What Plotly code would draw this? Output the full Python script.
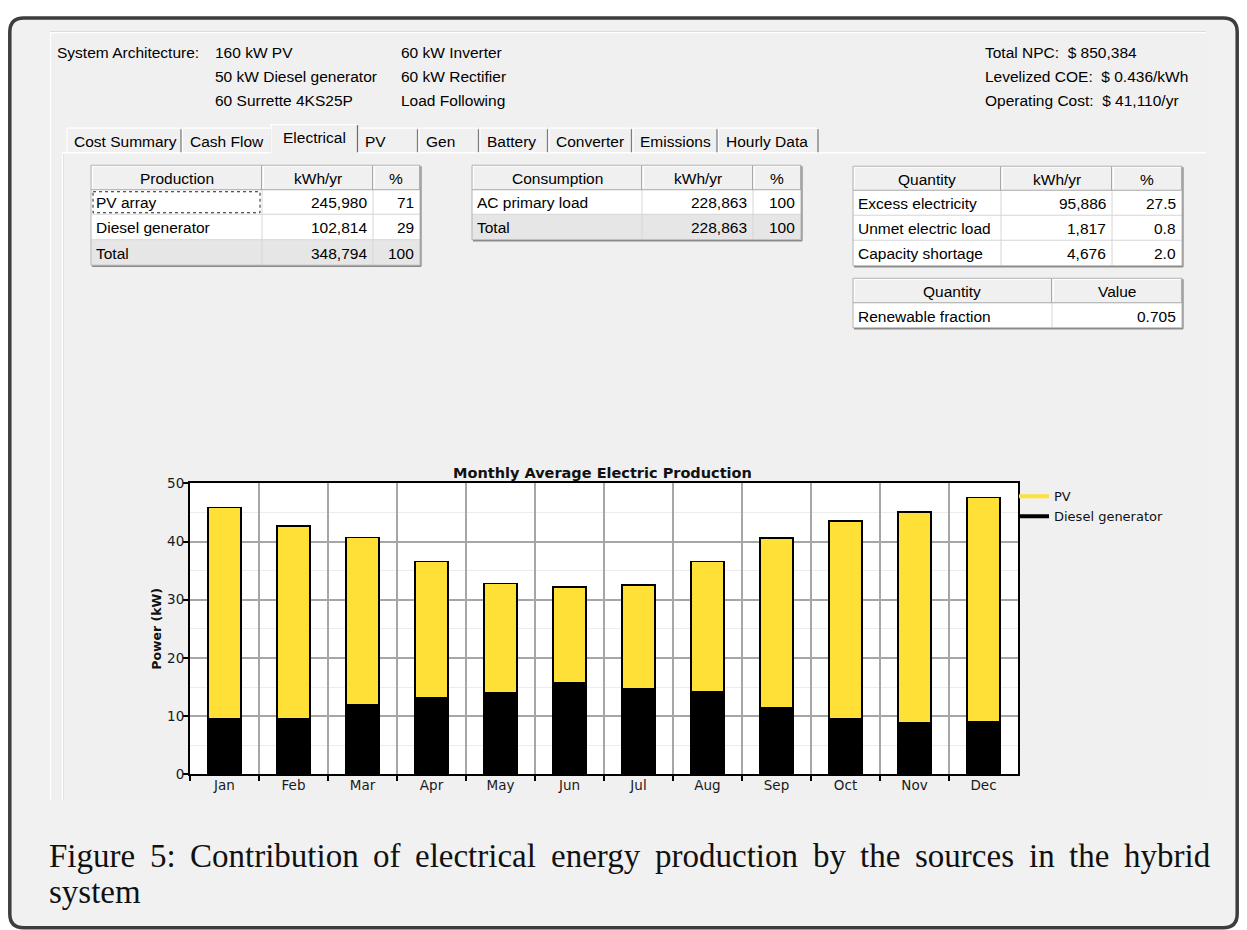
import plotly.graph_objects as go

W, H = 1247, 930
OFF_X = 8                    # page body margin (horizontal)
OFF_Y, SY = 15.8, 0.9826     # observed vertical placement of the figure in the photographed page
FW, FH = W - 2 * OFF_X, H

# ---------------- data ----------------
months = ["Jan", "Feb", "Mar", "Apr", "May", "Jun", "Jul", "Aug", "Sep", "Oct", "Nov", "Dec"]
diesel_kw = [9.6, 9.6, 11.9, 13.2, 14.0, 15.7, 14.7, 14.2, 11.4, 9.6, 8.9, 9.1]
pv_kw = [36.2, 33.1, 28.8, 23.4, 18.8, 16.5, 17.8, 22.4, 29.2, 33.9, 36.2, 38.5]
y_ticks = [0, 10, 20, 30, 40, 50]

chart_title = "Monthly Average Electric Production"
y_title = "Power (kW)"
series_names = ["PV", "Diesel generator"]

arch_label = "System Architecture:"
arch_col1 = ["160 kW PV", "50 kW Diesel generator", "60 Surrette 4KS25P"]
arch_col2 = ["60 kW Inverter", "60 kW Rectifier", "Load Following"]
cost_lines = ["Total NPC:\u00a0 $ 850,384", "Levelized COE:\u00a0 $ 0.436/kWh", "Operating Cost:\u00a0 $ 41,110/yr"]

tabs = ["Cost Summary", "Cash Flow", "Electrical", "PV", "Gen", "Battery", "Converter", "Emissions", "Hourly Data"]
selected_tab = 2

prod_header = ["Production", "kWh/yr", "%"]
prod_rows = [["PV array", "245,980", "71"], ["Diesel generator", "102,814", "29"], ["Total", "348,794", "100"]]
cons_header = ["Consumption", "kWh/yr", "%"]
cons_rows = [["AC primary load", "228,863", "100"], ["Total", "228,863", "100"]]
qty_header = ["Quantity", "kWh/yr", "%"]
qty_rows = [["Excess electricity", "95,886", "27.5"], ["Unmet electric load", "1,817", "0.8"], ["Capacity shortage", "4,676", "2.0"]]
ren_header = ["Quantity", "Value"]
ren_rows = [["Renewable fraction", "0.705"]]

caption_lines = ["Figure 5: Contribution of electrical energy production by the sources in the hybrid", "system"]

# ---------------- styles ----------------
UI = "Liberation Sans"
CH = "DejaVu Sans"
SERIF = "Liberation Serif"
BG = "#f0f0f0"
PV_COLOR = "#ffe036"
DG_COLOR = "#000000"

# approximate Times glyph advance widths (1/1000 em) for justifying the caption
TIMES_W = dict(a=444, b=500, c=444, d=500, e=444, f=333, g=500, h=500, i=278, j=278, k=500, l=278, m=778,
               n=500, o=500, p=500, q=500, r=333, s=389, t=278, u=500, v=500, w=722, x=500, y=500, z=444)
TIMES_W.update({"F": 556, "C": 667, ":": 278, "5": 500})


def X(x):
    return (x - OFF_X) / FW


def Y(y):
    return 1 - ((y - OFF_Y) / SY) / FH


shapes = []
annotations = []


def line(x0, y0, x1, y1, color, width=1, dash=None):
    d = dict(type="line", xref="paper", yref="paper", x0=X(x0), y0=Y(y0), x1=X(x1), y1=Y(y1),
             line=dict(color=color, width=width), layer="below")
    if dash:
        d["line"]["dash"] = dash
    shapes.append(d)


def rect(x0, y0, x1, y1, fill, lc=None, lw=0, dash=None):
    d = dict(type="rect", xref="paper", yref="paper", x0=X(x0), y0=Y(y0), x1=X(x1), y1=Y(y1),
             fillcolor=fill, line=dict(color=lc or "rgba(0,0,0,0)", width=lw), layer="below")
    if dash:
        d["line"]["dash"] = dash
    shapes.append(d)


def txt(s, x, y, anchor="left", size=15.5, family=UI, color="#000000", weight="normal"):
    annotations.append(dict(text=s, x=X(x), y=Y(y), xref="paper", yref="paper", xanchor=anchor,
                            yanchor="middle", showarrow=False,
                            font=dict(family=family, size=size, color=color, weight=weight)))


# ---------------- outer frame ----------------
x0, y0, x1, y1, r = 9.8, 17.8, 1237.2, 927.3, 14
frame_path = (f"M {X(x0 + r)},{Y(y0)} L {X(x1 - r)},{Y(y0)} Q {X(x1)},{Y(y0)} {X(x1)},{Y(y0 + r)} "
              f"L {X(x1)},{Y(y1 - r)} Q {X(x1)},{Y(y1)} {X(x1 - r)},{Y(y1)} "
              f"L {X(x0 + r)},{Y(y1)} Q {X(x0)},{Y(y1)} {X(x0)},{Y(y1 - r)} "
              f"L {X(x0)},{Y(y0 + r)} Q {X(x0)},{Y(y0)} {X(x0 + r)},{Y(y0)} Z")
shapes.append(dict(type="path", xref="paper", yref="paper", path=frame_path, fillcolor="#f1f1f1",
                   line=dict(color="#3d3d3d", width=3.5), layer="below"))

# screenshot area
rect(50, 32, 1206, 800, BG)
line(50, 31.5, 1206, 31.5, "#d6d6d6", 1)
line(50, 32.5, 1206, 32.5, "#ffffff", 1.2)
line(50.5, 32, 50.5, 800, "#ffffff", 1.2)
line(62.5, 152, 62.5, 800, "#ffffff", 1.2)
line(63.5, 152, 63.5, 800, "#e2e2e2", 1)

# ---------------- header text ----------------
for i in range(3):
    yy = 52 + 24 * i
    txt(arch_col1[i], 213, yy)
    txt(arch_col2[i], 399, yy)
    txt(cost_lines[i], 983, yy)
txt(arch_label, 55, 52)

# ---------------- tabs ----------------
tab_edges = [66, 181.5, 271.5, 357, 418, 479, 548, 632, 717.5, 818.5]
line(62, 152.5, tab_edges[selected_tab] + 1, 152.5, "#ffffff", 1.5)
line(tab_edges[selected_tab + 1] - 1, 152.5, 1206, 152.5, "#ffffff", 1.5)
for i, name in enumerate(tabs):
    a, b = tab_edges[i], tab_edges[i + 1]
    if i == selected_tab:
        continue
    line(a + 1, 128, b - 1, 128, "#ffffff", 1.2)
    line(a + 1, 128, a + 1, 152, "#ffffff", 1.2)
    line(b - 0.5, 129, b - 0.5, 152, "#7c7c7c", 1.3)
    txt(name, a + 6, 141)
a, b = tab_edges[selected_tab], tab_edges[selected_tab + 1]
rect(a - 1, 124, b + 1, 153.5, BG)
line(a - 1, 124.5, b, 124.5, "#ffffff", 1.2)
line(a - 0.5, 124.5, a - 0.5, 153, "#ffffff", 1.2)
line(b + 0.5, 125, b + 0.5, 152, "#6e6e6e", 1.3)
txt(tabs[selected_tab], a + 9, 137)


# ---------------- tables ----------------
def table(xs, ys, header, rows, shaded_last):
    rect(xs[0], ys[1], xs[-1], ys[-1], "#ffffff")
    if shaded_last:
        rect(xs[0], ys[-2], xs[-1], ys[-1], "#e6e6e6")
    for yy in ys[2:-1]:
        line(xs[0], yy, xs[-1], yy, "#d6d6d6", 1)
    for xx in xs[1:-1]:
        line(xx, ys[1], xx, ys[-1], "#d6d6d6", 1)
    for i in range(len(xs) - 1):
        line(xs[i] + 1, ys[0] + 1, xs[i + 1] - 1, ys[0] + 1, "#ffffff", 1)
        line(xs[i] + 1.5, ys[0] + 1, xs[i] + 1.5, ys[1] - 1, "#ffffff", 1)
        line(xs[i + 1] - 0.5, ys[0], xs[i + 1] - 0.5, ys[1], "#a8a8a8", 1)
    line(xs[0], ys[1], xs[-1], ys[1], "#a8a8a8", 1)
    rect(xs[0], ys[0], xs[-1], ys[-1], "rgba(0,0,0,0)", "#b4b4b4", 1)
    line(xs[0] + 1, ys[-1] + 1, xs[-1] + 1, ys[-1] + 1, "#8c8c8c", 1.3)
    line(xs[-1] + 1, ys[0] + 1, xs[-1] + 1, ys[-1] + 1, "#8c8c8c", 1.3)
    for j, h in enumerate(header):
        txt(h, (xs[j] + xs[j + 1]) / 2, (ys[0] + ys[1]) / 2 + 1, anchor="center")
    for i, row in enumerate(rows):
        yc = (ys[i + 1] + ys[i + 2]) / 2 + 1
        for j, v in enumerate(row):
            if j == 0:
                txt(v, xs[0] + 3, yc)
            else:
                txt(v, xs[j + 1] - 4, yc, anchor="right")


table([91, 262, 373, 420], [165, 189.5, 214, 239.5, 265], prod_header, prod_rows, True)
rect(93, 191.5, 260, 212.5, "rgba(0,0,0,0)", "#222222", 1, dash="dot")
table([472, 642, 753, 801], [165, 189.5, 214, 239.5], cons_header, cons_rows, True)
table([853, 1001, 1112, 1182], [166, 190, 215, 240, 265.5], qty_header, qty_rows, False)
table([853, 1052, 1182], [278, 302.5, 327.5], ren_header, ren_rows, False)

# ---------------- chart ----------------
PX0, PX1, PY0, PY1 = 190, 1018, 483, 774
rect(PX0, PY0, PX1, PY1, "#ffffff")

fig = go.Figure()
fig.add_trace(go.Bar(x=months, y=diesel_kw, name=series_names[1],
                     marker=dict(color=DG_COLOR, line=dict(color="#000", width=1.5)),
                     showlegend=False, hoverinfo="x+y"))
fig.add_trace(go.Bar(x=months, y=pv_kw, name=series_names[0],
                     marker=dict(color=PV_COLOR, line=dict(color="#000", width=1.5)),
                     showlegend=False, hoverinfo="x+y"))
# legend entries (line style swatches, as in the original legend)
fig.add_trace(go.Scatter(x=[None], y=[None], mode="lines", name=series_names[0], line=dict(color=PV_COLOR, width=4)))
fig.add_trace(go.Scatter(x=[None], y=[None], mode="lines", name=series_names[1], line=dict(color=DG_COLOR, width=4)))

txt(chart_title, 602, 473, anchor="center", size=14.5, family=CH, color="#111111", weight="bold")

# ---------------- caption (justified first line) ----------------
CAP_SIZE = 33
CAP_L, CAP_R = 47, 1208
words = caption_lines[0].split(" ")
widths = [sum(TIMES_W.get(ch, 500) for ch in w) / 1000 * CAP_SIZE for w in words]
gap = (CAP_R - CAP_L - sum(widths)) / (len(words) - 1)
xpos = CAP_L
for w, wd in zip(words, widths):
    txt(w, xpos, 856, anchor="left", size=CAP_SIZE, family=SERIF, color="#111111")
    xpos += wd + gap
txt(caption_lines[1], CAP_L, 892, size=CAP_SIZE, family=SERIF, color="#111111")

fig.update_layout(
    width=FW, height=FH, autosize=False,
    margin=dict(l=0, r=0, t=0, b=0, pad=0),
    paper_bgcolor="#ffffff", plot_bgcolor="#ffffff",
    barmode="stack", bargap=0.52,
    shapes=shapes, annotations=annotations,
    showlegend=True,
    legend=dict(x=X(1014), y=Y(481), xanchor="left", yanchor="top", bgcolor="rgba(0,0,0,0)",
                font=dict(family=CH, size=13, color="#111111"), traceorder="normal",
                itemwidth=30, tracegroupgap=0),
    xaxis=dict(domain=[X(PX0), X(PX1)], type="category", range=[-0.5, 11.5], tickson="boundaries",
               ticks="outside", ticklen=5, tickwidth=1.5, tickcolor="#000", ticklabelstandoff=-3,
               showgrid=True, gridcolor="#a6a6a6", gridwidth=1.5,
               showline=True, linecolor="#000", linewidth=2, mirror=True,
               tickfont=dict(family=CH, size=13.5, color="#1a1a1a"), fixedrange=True),
    yaxis=dict(domain=[Y(PY1), Y(PY0)], range=[0, 50], tickvals=y_ticks,
               ticks="outside", ticklen=5, tickwidth=1.5, tickcolor="#000", ticklabelstandoff=-4,
               showgrid=True, gridcolor="#a6a6a6", gridwidth=1.5, zeroline=False,
               minor=dict(dtick=5, showgrid=True, gridcolor="#ececec", gridwidth=1, ticks=""),
               showline=True, linecolor="#000", linewidth=2, mirror=True,
               tickfont=dict(family=CH, size=13.5, color="#1a1a1a"),
               title=dict(text=y_title, font=dict(family=CH, size=12.5, color="#111", weight="bold"), standoff=3),
               fixedrange=True),
)

fig.write_html("out.html")
